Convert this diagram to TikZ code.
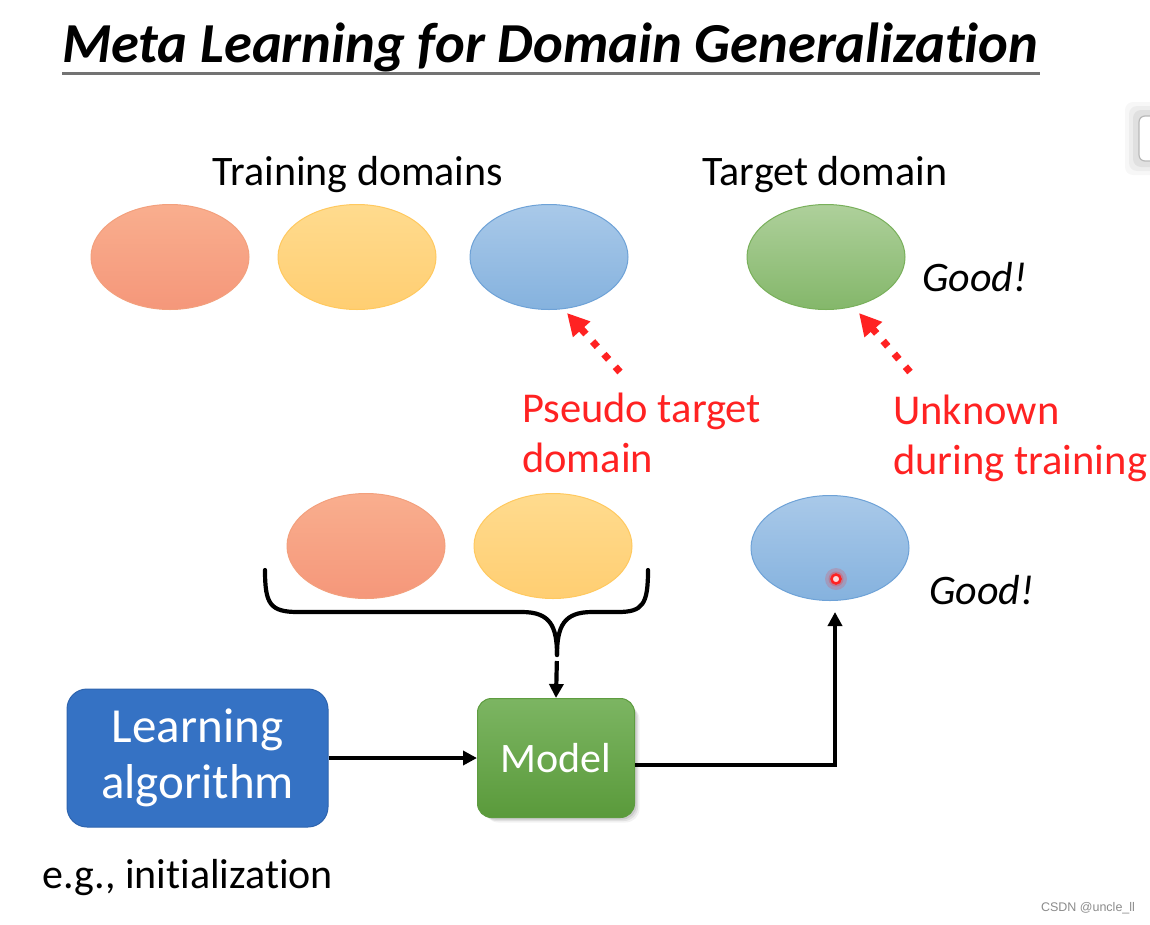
\documentclass[tikz,border=0pt]{standalone}
\usepackage{fontspec}
\setmainfont{Carlito}[Ligatures=NoCommon]
\newfontfamily\wmfont{Liberation Sans}
\usetikzlibrary{shapes.geometric,arrows.meta}
\definecolor{orgT}{HTML}{F9AE8E}\definecolor{orgB}{HTML}{F5977A}\definecolor{orgD}{HTML}{F3A07D}
\definecolor{yelT}{HTML}{FFDB8E}\definecolor{yelB}{HTML}{FFCE72}\definecolor{yelD}{HTML}{FFC95F}
\definecolor{bluT}{HTML}{A9C9E9}\definecolor{bluB}{HTML}{85B2DE}\definecolor{bluD}{HTML}{6EA2D7}
\definecolor{grnT}{HTML}{AED09B}\definecolor{grnB}{HTML}{84B76A}\definecolor{grnD}{HTML}{79B05B}
\definecolor{learnF}{HTML}{3572C4}\definecolor{learnD}{HTML}{2E64AE}
\definecolor{modT}{HTML}{7CB562}\definecolor{modB}{HTML}{5A9A3B}\definecolor{modD}{HTML}{5E9C40}
\definecolor{redtxt}{HTML}{FF2222}
\begin{document}
\begin{tikzpicture}[x=1pt,y=-1pt,
  dom/.style={ellipse, minimum width=158pt, minimum height=105pt, inner sep=0pt, line width=1pt},
  orangedom/.style={dom, draw=orgD, top color=orgT, bottom color=orgB},
  yellowdom/.style={dom, draw=yelD, top color=yelT, bottom color=yelB},
  bluedom/.style={dom, draw=bluD, top color=bluT, bottom color=bluB},
  greendom/.style={dom, draw=grnD, top color=grnT, bottom color=grnB},
  lbl/.style={inner sep=0pt, font=\fontsize{42}{50}\selectfont},
  redlbl/.style={inner sep=0pt, font=\fontsize{42.5}{50}\selectfont, text=redtxt, align=left},
  good/.style={inner sep=0pt, font=\itshape\fontsize{42}{48}\selectfont},
  blk/.style={line width=4.2pt, -{Triangle[length=14pt,width=14pt]}},
  redarr/.style={line width=7pt, redtxt, dash pattern=on 7pt off 10pt, -{Triangle[length=22pt,width=22pt]}},
]
\useasboundingbox (0,0) rectangle (1150,924);
\fill[white] (0,0) rectangle (1150,924);

% top-right fragment
\begin{scope}
\clip (0,0) rectangle (1150,924);
\foreach \r/\o in {14/0.03,10/0.04,6/0.05}{
  \fill[black, opacity=\o, rounded corners=8pt] (1139-\r,116-\r) rectangle (1180,161+\r);
}
\draw[gray!55, line width=1.2pt, fill=white] (1139,116) [rounded corners=6pt] rectangle (1180,161);
\end{scope}

% title
\node[inner sep=0pt, anchor=base west, font=\bfseries\itshape\fontsize{56.5}{64}\selectfont] (title) at (62,62) {Meta Learning for Domain Generalization};
\draw[line width=3pt, black!55] (62,73) -- (1040,73);

% headings
\node[lbl, anchor=base] (train) at (358,185) {Training domains};
\node[lbl, anchor=base] (target) at (825,185) {Target domain};

% top ellipses
\node[orangedom] (o1) at (170,257) {};
\node[yellowdom] (y1) at (357,257) {};
\node[bluedom] (b1) at (549,257) {};
\node[greendom] (g1) at (826,257) {};
\node[good, anchor=base west] (good1) at (922,291) {Good!};

% red arrows and labels
\coordinate (pa) at (620,372);
\coordinate (pt) at (567,313);
\coordinate (ua) at (910,372);
\coordinate (ut) at (859,313);
\draw[redarr] (pa) -- (pt);
\draw[redarr] (ua) -- (ut);
\node[redlbl, anchor=base west] (pseudo) at (522,472) {Pseudo target\\domain};
\node[redlbl, anchor=base west] (unknown) at (893,474) {Unknown\\during training};

% bottom ellipses
\node[orangedom] (o2) at (366,546) {};
\node[yellowdom] (y2) at (553,546) {};
\node[bluedom] (b2) at (830,548) {};
\node[good, anchor=base west] (good2) at (929,604) {Good!};

% red dot
\fill[redtxt, opacity=0.18] (836,579) circle (11pt);
\fill[redtxt, opacity=0.25] (836,579) circle (7.5pt);
\draw[redtxt, line width=2.5pt, fill=red!15] (836,579) circle (4.5pt);

% brace
\coordinate (bt) at (557,655);
\draw[line width=4.2pt, line cap=round, line join=round]
  (265,570) .. controls (265,604) and (270,612) .. (298,612) -- (522,612)
  .. controls (550,612) and (557,626) .. (bt);
\draw[line width=4.2pt, line cap=round, line join=round]
  (648,570) .. controls (648,604) and (643,612) .. (618,612) -- (592,612)
  .. controls (564,612) and (557,626) .. (bt);

% model shadow
\foreach \d/\o in {6/0.05,4.5/0.07,3/0.09}{
  \fill[black, opacity=\o, rounded corners=14pt] (478.5+\d,699.5+\d) rectangle (633.5+\d,816.5+\d);
}

% boxes
\node[draw=learnD, fill=learnF, line width=1pt, rounded corners=20pt, minimum width=261pt, minimum height=138pt,
      text=white, align=center, font=\fontsize{49}{56}\selectfont, inner sep=0pt] (learn) at (197.5,758) {Learning\\algorithm};
\node[draw=modD, top color=modT, bottom color=modB, line width=1pt, rounded corners=14pt, minimum width=157pt, minimum height=119pt,
      text=white, font=\fontsize{42}{48}\selectfont, inner sep=0pt] (model) at (556,758) {Model};

% connectors
\draw[blk, dash pattern=on 0pt off 6pt on 100pt] (bt) -- (model.north);
\draw[blk] (learn.east) -- (model.west);
\coordinate (tgt) at (835,612);
\draw[blk, line join=miter] ([yshift=-7pt]model.east) -| (tgt);

% bottom text
\node[lbl, anchor=base] (eg) at (188,888) {e.g., initialization};
\node[inner sep=0pt, text=black!45, font=\wmfont\fontsize{12.5}{14}\selectfont] (wm) at (1088,908) {CSDN @uncle\_ll};
\end{tikzpicture}
\end{document}
